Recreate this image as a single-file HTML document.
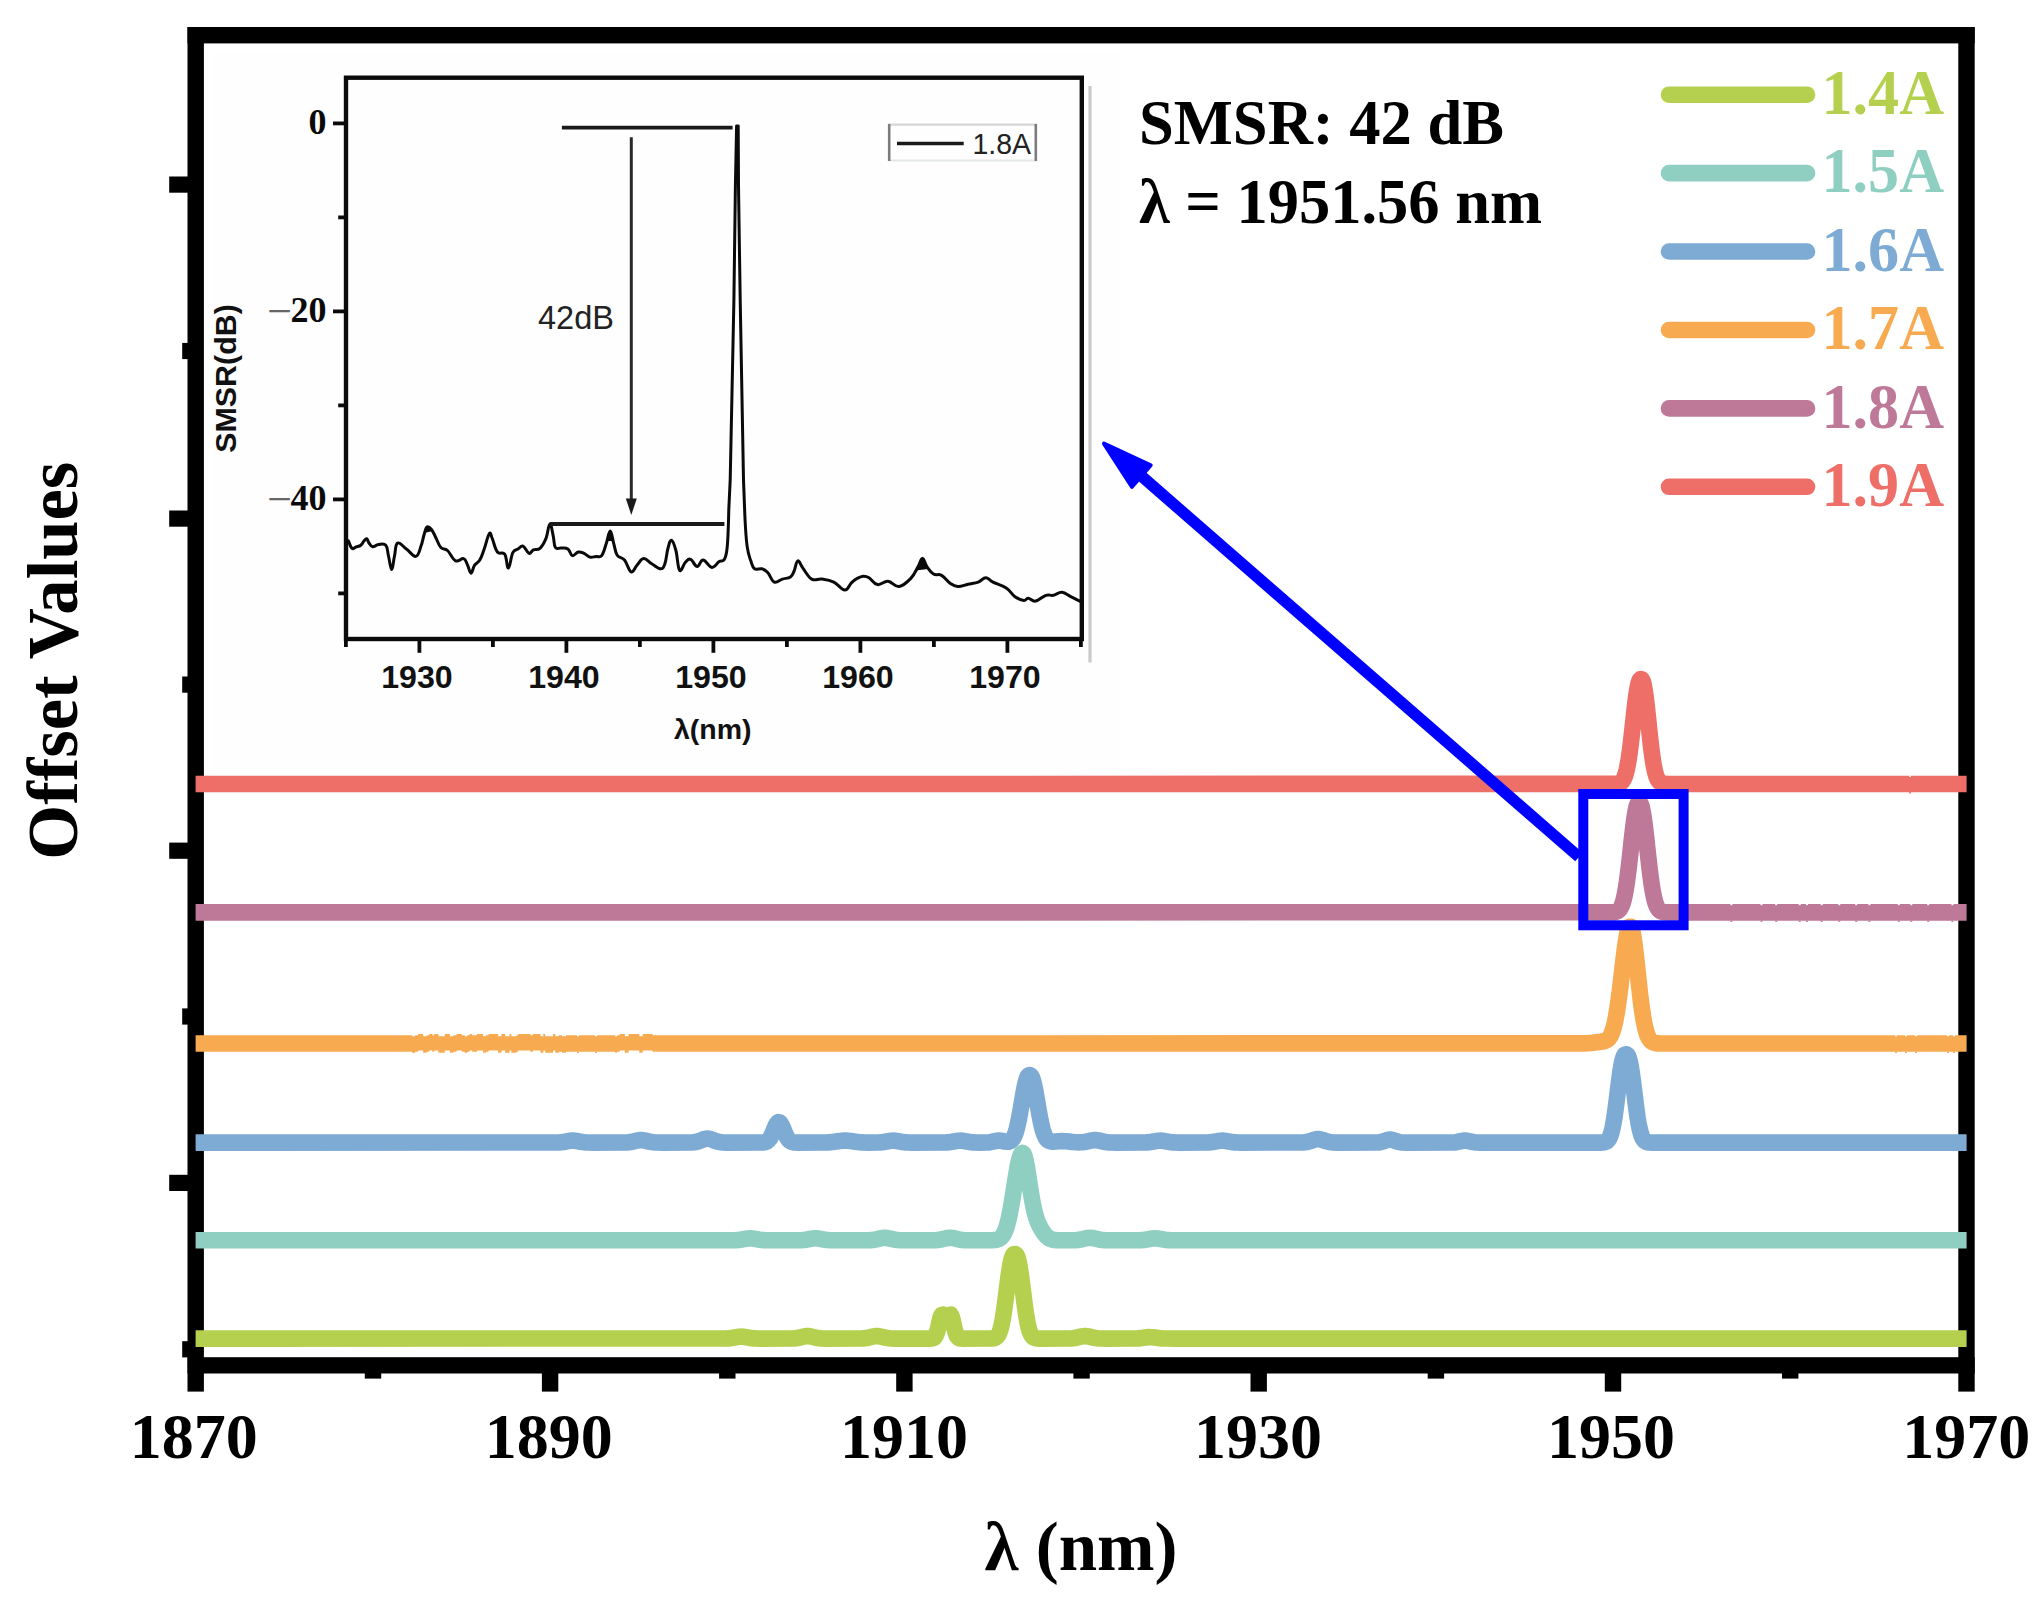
<!DOCTYPE html>
<html lang="en"><head><meta charset="utf-8"><title>Offset spectra vs pump current</title>
<style>html,body{margin:0;padding:0;background:#fff}body{width:2043px;height:1615px;overflow:hidden}svg{display:block}text{font-family:"Liberation Serif", serif;font-weight:bold}.sans{font-family:"Liberation Sans", sans-serif}.rg{font-weight:normal}</style>
</head><body>
<svg width="2043" height="1615" viewBox="0 0 2043 1615">
<rect x="0" y="0" width="2043" height="1615" fill="#fff"/>
<g id="inset">
<rect x="214" y="52" width="906" height="717" fill="#fefefe"/>
<line x1="1090" y1="86" x2="1090" y2="662.5" stroke="#cacaca" stroke-width="3.2"/>
<rect x="346" y="77.7" width="735.8" height="561.3" fill="none" stroke="#0a0a0a" stroke-width="4.4"/>
<line x1="345.9" y1="639" x2="345.9" y2="647" stroke="#0a0a0a" stroke-width="3.8"/>
<line x1="419.4" y1="639" x2="419.4" y2="652.8" stroke="#0a0a0a" stroke-width="3.8"/>
<line x1="492.9" y1="639" x2="492.9" y2="647" stroke="#0a0a0a" stroke-width="3.8"/>
<line x1="566.4" y1="639" x2="566.4" y2="652.8" stroke="#0a0a0a" stroke-width="3.8"/>
<line x1="639.9" y1="639" x2="639.9" y2="647" stroke="#0a0a0a" stroke-width="3.8"/>
<line x1="713.4" y1="639" x2="713.4" y2="652.8" stroke="#0a0a0a" stroke-width="3.8"/>
<line x1="786.9" y1="639" x2="786.9" y2="647" stroke="#0a0a0a" stroke-width="3.8"/>
<line x1="860.4" y1="639" x2="860.4" y2="652.8" stroke="#0a0a0a" stroke-width="3.8"/>
<line x1="933.9" y1="639" x2="933.9" y2="647" stroke="#0a0a0a" stroke-width="3.8"/>
<line x1="1007.4" y1="639" x2="1007.4" y2="652.8" stroke="#0a0a0a" stroke-width="3.8"/>
<line x1="1080.9" y1="639" x2="1080.9" y2="647" stroke="#0a0a0a" stroke-width="3.8"/>
<line x1="333" y1="123.4" x2="346" y2="123.4" stroke="#0a0a0a" stroke-width="3.8"/>
<line x1="338.2" y1="217.4" x2="346" y2="217.4" stroke="#0a0a0a" stroke-width="3.8"/>
<line x1="333" y1="311.4" x2="346" y2="311.4" stroke="#0a0a0a" stroke-width="3.8"/>
<line x1="338.2" y1="405.4" x2="346" y2="405.4" stroke="#0a0a0a" stroke-width="3.8"/>
<line x1="333" y1="499.4" x2="346" y2="499.4" stroke="#0a0a0a" stroke-width="3.8"/>
<line x1="338.2" y1="593.4" x2="346" y2="593.4" stroke="#0a0a0a" stroke-width="3.8"/>
<text x="326.5" y="134.2" font-size="36" text-anchor="end" fill="#0a0a0a">0</text>
<text font-size="36" fill="#0a0a0a"><tspan class="rg" x="292" y="326.3" font-size="44" text-anchor="end" fill="#666">−</tspan><tspan x="326.5" y="322" text-anchor="end">20</tspan></text>
<text font-size="36" fill="#0a0a0a"><tspan class="rg" x="292" y="514.3" font-size="44" text-anchor="end" fill="#666">−</tspan><tspan x="326.5" y="509.8" text-anchor="end">40</tspan></text>
<text class="sans" x="417" y="688.4" font-size="31" text-anchor="middle" textLength="71.5" lengthAdjust="spacingAndGlyphs" fill="#111">1930</text>
<text class="sans" x="564" y="688.4" font-size="31" text-anchor="middle" textLength="71.5" lengthAdjust="spacingAndGlyphs" fill="#111">1940</text>
<text class="sans" x="711" y="688.4" font-size="31" text-anchor="middle" textLength="71.5" lengthAdjust="spacingAndGlyphs" fill="#111">1950</text>
<text class="sans" x="858" y="688.4" font-size="31" text-anchor="middle" textLength="71.5" lengthAdjust="spacingAndGlyphs" fill="#111">1960</text>
<text class="sans" x="1005" y="688.4" font-size="31" text-anchor="middle" textLength="71.5" lengthAdjust="spacingAndGlyphs" fill="#111">1970</text>
<text class="sans" x="712.8" y="738.8" font-size="28.5" text-anchor="middle" fill="#111">λ(nm)</text>
<text class="sans" transform="translate(235.8 378.5) rotate(-90)" font-size="29" text-anchor="middle" textLength="148.5" lengthAdjust="spacingAndGlyphs" fill="#111">SMSR(dB)</text>
<path d="M348.4,540.9C349.1,542.4 350.5,547.1 352,548.3C353.5,549.5 354.2,547.6 356,547C357.8,546.4 359.2,546.5 360.8,545.3C362.4,544.1 362.8,542.3 364,541C365.2,539.7 365.7,538.3 366.7,538.7C367.7,539.1 367.8,541.4 369,543C370.2,544.6 370.7,546.5 372.6,546.8C374.5,547.1 375.9,544.9 378.5,544.6C381.1,544.3 383.8,543 385.8,545.3C387.8,547.6 387.3,551.1 388.5,556C389.7,560.9 390.5,569.6 391.7,569.6C392.9,569.6 393.3,561.3 394.5,556C395.7,550.7 395.1,544.5 397.5,543.1C399.9,541.7 402.7,546.3 406.4,549C410.1,551.7 413,557 415.9,556.4C418.8,555.8 419.4,550.4 421,546.1C422.6,541.8 422.8,538.8 424,535C425.2,531.2 425.4,528.2 426.9,527C428.4,525.8 429.5,527 431.3,529.2C433.1,531.4 434.1,534.3 436,538C437.9,541.7 438.6,545 440.9,547.5C443.2,550 444.6,547.8 447.5,550.5C450.4,553.2 452.4,559.2 455.6,560.8C458.8,562.4 461.2,557.8 463.6,558.6C466,559.4 466,562.1 467.5,565C469,567.9 469.6,573.2 471,573.2C472.4,573.2 472.8,567.8 474.6,565.2C476.4,562.6 477.9,563.2 479.8,560C481.7,556.8 482.3,554.3 484.2,549C486.1,543.7 487.7,535.7 489.3,533.6C490.9,531.5 490.7,535 492.3,538.7C493.9,542.4 494.9,548.9 497.4,552C499.9,555.1 502.5,551 504.7,554.2C506.9,557.4 506.8,568.4 508.4,568.1C510,567.8 510.9,556.5 512.8,552.7C514.7,548.9 515.9,550.3 518,549C520.1,547.7 520.9,545.2 523.1,546.1C525.3,547 526.9,552.7 529,553.4C531.1,554.1 531.2,550.8 533.4,549.8C535.6,548.8 537.5,550.5 540,548.3C542.5,546.1 543.9,543.5 545.9,538.7C547.9,533.9 548.3,524.7 549.8,524.1C551.3,523.5 552.1,531.1 553.2,535.8C554.3,540.5 553.8,545.1 555.4,547.5C557,549.9 558.5,547.7 561,548C563.5,548.3 565.6,547.5 567.9,549C570.2,550.5 570.2,555 572.3,555.6C574.4,556.2 575.9,552.4 578.2,552C580.5,551.6 581.7,552.4 584,553.4C586.3,554.4 587.5,556.5 589.9,557.1C592.3,557.7 593.6,556.8 596,556.5C598.4,556.2 599.7,558.1 601.7,555.6C603.7,553.1 604.5,548.7 606.2,543.8C607.9,538.9 608.7,531 610.2,531C611.7,531 612.4,539 613.8,543.8C615.2,548.6 615.1,552 617.2,555.2C619.3,558.4 621.7,556.7 624.5,560C627.3,563.3 628.6,570.8 631.1,571.8C633.6,572.8 634.5,567.8 637,565.2C639.5,562.6 640.7,558.9 643.6,558.6C646.5,558.3 648.3,561.7 651.7,563.7C655.1,565.7 657.9,568.8 660.5,568.8C663.1,568.8 663.4,567.7 664.9,563.7C666.4,559.7 666.5,553.7 667.8,549C669.1,544.3 669.9,539.9 671.5,540.2C673.1,540.5 674.3,544.5 675.9,550.5C677.5,556.5 677.7,568 679.6,570.3C681.5,572.6 683.2,564.4 685.4,562.2C687.6,560 688.2,558.4 690.6,559.3C693,560.2 694.7,566.5 697.2,566.6C699.7,566.7 700.2,559.8 703.1,560C706,560.2 708.7,567.1 711.9,567.4C715.1,567.7 716.7,563.1 719.2,561.5C721.7,559.9 722.8,562.4 724.4,559.3C726,556.2 726.4,556.1 727.3,546.1C728.2,536.1 728.8,509.4 728.8,509.4C728.8,509.4 730.2,480 730.2,480C730.2,480 733.9,300 733.9,300C733.9,300 735.4,186 735.4,186C735.4,186 736.6,126 736.6,126C736.6,126 738.2,126 738.2,126C738.2,126 738.5,186 738.5,186C738.5,186 740.2,300 740.2,300C740.2,300 743.5,480 743.5,480C743.5,480 744.9,516.7 744.9,516.7C744.9,516.7 745.9,537.3 747.1,546.1C748.3,554.9 749.3,556.3 750.8,560.8C752.3,565.3 752.3,567.2 754.5,568.8C756.7,570.4 759.2,568.1 761.8,568.8C764.4,569.5 765.2,569.8 767.7,572.5C770.2,575.2 771.4,580.8 774.3,582.1C777.2,583.4 779.2,580.1 782.4,579.1C785.6,578.1 788.1,578.5 790.4,576.9C792.7,575.3 792.6,574.2 794.1,571C795.6,567.8 796,561.4 797.8,560.8C799.6,560.2 800.1,564.4 802.9,568.1C805.7,571.8 807.9,576.9 811.7,579.1C815.5,581.3 817.6,578.5 822,579.1C826.4,579.7 829.2,579.9 833.8,582.1C838.4,584.3 841.3,590 844.8,590.1C848.3,590.2 849,585.1 851.4,582.8C853.8,580.5 854.6,579.8 857,578.5C859.4,577.2 860.8,576.4 863.2,576.2C865.6,576 866.1,576 869,577.7C871.9,579.4 873.7,583.9 877.5,584.6C881.3,585.3 883.7,580.9 888,581.3C892.3,581.7 894.4,587.1 899,586.5C903.6,585.9 907,582.4 910.8,578.4C914.6,574.4 915.8,570.6 918.1,566.6C920.4,562.6 920.7,558.6 922.5,558.6C924.3,558.6 924.7,563.5 926.9,566.6C929.1,569.7 930.6,572.2 933.5,574C936.4,575.8 938.2,573.5 941.6,575.4C945,577.3 947.2,581.3 950.4,583.5C953.6,585.7 954.3,586.3 957.8,586.5C961.3,586.7 963.9,585.2 968,584.3C972.1,583.4 974.8,583.4 978.3,582.1C981.8,580.8 982.8,577.7 985.7,577.7C988.6,577.7 988.9,580.1 993,582.1C997.1,584.1 1001.8,585 1006.2,587.9C1010.6,590.8 1011.5,594.2 1015,596.7C1018.5,599.2 1021.2,600.1 1023.8,600.4C1026.4,600.7 1025.8,598.1 1028.2,598.2C1030.6,598.3 1032.1,601.7 1035.6,601.1C1039.1,600.5 1042.4,596.5 1045.9,595.3C1049.4,594.1 1050,595.9 1053.2,595.3C1056.4,594.7 1058.5,592 1062,592.3C1065.5,592.6 1067.3,594.9 1070.8,596.7C1074.3,598.5 1077.8,600.2 1079.6,601.1" fill="none" stroke="#0a0a0a" stroke-width="3" stroke-linejoin="round" stroke-linecap="round"/>
<polygon points="915.5,570.5 922.5,556.5 928,569" fill="#0a0a0a"/>
<polygon points="424.5,533 427.5,525.8 432.5,531" fill="#0a0a0a"/>
<polygon points="607.6,541 610.2,529.8 613,541" fill="#0a0a0a"/>
<line x1="561.9" y1="127.6" x2="732.6" y2="127.6" stroke="#1a1a1a" stroke-width="3.8"/>
<line x1="549.8" y1="524" x2="724.4" y2="524" stroke="#1a1a1a" stroke-width="3.8"/>
<line x1="631.3" y1="137.3" x2="631.3" y2="501" stroke="#2a2a2a" stroke-width="3"/>
<polygon points="625.8,498.4 636.8,498.4 631.3,515" fill="#1a1a1a"/>
<text class="sans rg" x="576" y="329.2" font-size="32.5" text-anchor="middle" fill="#222">42dB</text>
<line x1="889.2" y1="124.6" x2="1035.8" y2="124.6" stroke="#d6d6d6" stroke-width="2.4"/>
<line x1="889.2" y1="160.6" x2="1035.8" y2="160.6" stroke="#e4e8e6" stroke-width="2"/>
<line x1="889.2" y1="123.9" x2="889.2" y2="161" stroke="#7c7c7c" stroke-width="2.6"/>
<line x1="1035.8" y1="123.9" x2="1035.8" y2="161" stroke="#7c7c7c" stroke-width="2.6"/>
<line x1="897" y1="143.6" x2="963.7" y2="143.6" stroke="#1a1a1a" stroke-width="3.5"/>
<text class="sans rg" x="1001.8" y="153.9" font-size="30" text-anchor="middle" textLength="58.5" lengthAdjust="spacingAndGlyphs" fill="#222">1.8A</text>
</g>
<g id="axes" fill="#000">
<rect x="187.5" y="27" width="16.4" height="1364.6"/>
<rect x="1958.3" y="27" width="16.4" height="1364.6"/>
<rect x="187.5" y="27" width="1787.2" height="16.4"/>
<rect x="187.5" y="1357.2" width="1787.2" height="16.3"/>
<rect x="364.8" y="1372.5" width="16.4" height="6.1"/>
<rect x="541.9" y="1372.5" width="16.4" height="19.1"/>
<rect x="719.1" y="1372.5" width="16.4" height="6.1"/>
<rect x="896.2" y="1372.5" width="16.4" height="19.1"/>
<rect x="1073.4" y="1372.5" width="16.4" height="6.1"/>
<rect x="1250.5" y="1372.5" width="16.4" height="19.1"/>
<rect x="1427.7" y="1372.5" width="16.4" height="6.1"/>
<rect x="1604.8" y="1372.5" width="16.4" height="19.1"/>
<rect x="1782" y="1372.5" width="16.4" height="6.1"/>
<rect x="169.2" y="176.5" width="19.3" height="16.2"/>
<rect x="182.2" y="342.9" width="6.3" height="16.2"/>
<rect x="169.2" y="510.5" width="19.3" height="16.2"/>
<rect x="182.2" y="676.5" width="6.3" height="16.2"/>
<rect x="169.2" y="842.6" width="19.3" height="16.2"/>
<rect x="182.2" y="1008.4" width="6.3" height="16.2"/>
<rect x="169.2" y="1174.8" width="19.3" height="16.2"/>
<rect x="182.2" y="1341.2" width="6.3" height="16.2"/>
</g>
<g id="data" fill="none" stroke-width="16.6" stroke-linejoin="round" stroke-linecap="butt">
<polyline stroke="#ee6e68" points="195.6,784 1615.6,783.9 1616.6,783.8 1617.6,783.7 1618.6,783.5 1619.6,783.2 1620.6,782.7 1621.6,781.9 1622.6,780.8 1623.6,779.2 1624.6,777.1 1625.6,774.1 1626.6,770.3 1627.6,765.6 1628.6,759.8 1629.6,753 1630.6,745.3 1631.6,736.7 1632.6,727.7 1633.6,718.5 1634.6,709.5 1635.6,701.1 1636.6,693.6 1637.6,687.6 1638.6,683.1 1639.6,680.3 1640.6,679.1 1641.6,679.2 1642.6,680.9 1643.6,684.4 1644.6,689.7 1645.6,696.6 1646.6,704.9 1647.6,714.1 1648.6,723.7 1649.6,733.3 1650.6,742.5 1651.6,750.9 1652.6,758.3 1653.6,764.6 1654.6,769.7 1655.6,773.8 1656.6,776.9 1657.6,779.2 1658.6,780.9 1659.6,782 1660.6,782.8 1661.6,783.3 1662.6,783.6 1663.6,783.8 1664.6,783.9 1665.6,783.9 1667.6,784 1966.6,784"/>
<rect x="1909" y="775.5" width="2" height="1.3" fill="#fff" stroke="none"/>
<rect x="1909" y="792.2" width="2" height="1.3" fill="#ee6e68" stroke="none"/>
<polyline stroke="#be7898" points="195.6,912.4 1611.6,912.3 1612.6,912.3 1613.6,912.2 1614.6,912.1 1615.6,911.9 1616.6,911.6 1617.6,911.1 1618.6,910.4 1619.6,909.4 1620.6,907.9 1621.6,906 1622.6,903.3 1623.6,899.9 1624.6,895.5 1625.6,890.3 1626.6,884 1627.6,876.7 1628.6,868.7 1629.6,859.9 1630.6,850.8 1631.6,841.5 1632.6,832.6 1633.6,824.3 1634.6,817.1 1635.6,811.1 1636.6,806.6 1637.6,803.8 1638.6,802.5 1639.6,802.5 1640.6,803.8 1641.6,806.6 1642.6,811.1 1643.6,817.1 1644.6,824.3 1645.6,832.6 1646.6,841.5 1647.6,850.8 1648.6,859.9 1649.6,868.7 1650.6,876.7 1651.6,884 1652.6,890.3 1653.6,895.5 1654.6,899.9 1655.6,903.3 1656.6,906 1657.6,907.9 1658.6,909.4 1659.6,910.4 1660.6,911.1 1661.6,911.6 1662.6,911.9 1663.6,912.1 1664.6,912.2 1665.6,912.3 1667.6,912.4 1966.6,912.4"/>
<rect x="1730.4" y="903.9" width="2" height="1.3" fill="#fff" stroke="none"/>
<rect x="1730.4" y="920.6" width="2" height="1.3" fill="#be7898" stroke="none"/>
<rect x="1760.5" y="903.9" width="2" height="1.3" fill="#fff" stroke="none"/>
<rect x="1760.5" y="920.6" width="2" height="1.3" fill="#be7898" stroke="none"/>
<rect x="1775.2" y="903.9" width="2" height="1.3" fill="#fff" stroke="none"/>
<rect x="1775.2" y="920.6" width="2" height="1.3" fill="#be7898" stroke="none"/>
<rect x="1798.7" y="903.9" width="2" height="1.3" fill="#fff" stroke="none"/>
<rect x="1798.7" y="920.6" width="2" height="1.3" fill="#be7898" stroke="none"/>
<rect x="1806" y="903.9" width="2" height="1.3" fill="#fff" stroke="none"/>
<rect x="1806" y="920.6" width="2" height="1.3" fill="#be7898" stroke="none"/>
<rect x="1820.7" y="903.9" width="2" height="1.3" fill="#fff" stroke="none"/>
<rect x="1820.7" y="920.6" width="2" height="1.3" fill="#be7898" stroke="none"/>
<rect x="1838.3" y="903.9" width="2" height="1.3" fill="#fff" stroke="none"/>
<rect x="1838.3" y="920.6" width="2" height="1.3" fill="#be7898" stroke="none"/>
<rect x="1855.2" y="903.9" width="2" height="1.3" fill="#fff" stroke="none"/>
<rect x="1855.2" y="920.6" width="2" height="1.3" fill="#be7898" stroke="none"/>
<rect x="1868.4" y="903.9" width="2" height="1.3" fill="#fff" stroke="none"/>
<rect x="1868.4" y="920.6" width="2" height="1.3" fill="#be7898" stroke="none"/>
<rect x="1897.8" y="903.9" width="2" height="1.3" fill="#fff" stroke="none"/>
<rect x="1897.8" y="920.6" width="2" height="1.3" fill="#be7898" stroke="none"/>
<rect x="1910.3" y="903.9" width="2" height="1.3" fill="#fff" stroke="none"/>
<rect x="1910.3" y="920.6" width="2" height="1.3" fill="#be7898" stroke="none"/>
<rect x="1927.2" y="903.9" width="2" height="1.3" fill="#fff" stroke="none"/>
<rect x="1927.2" y="920.6" width="2" height="1.3" fill="#be7898" stroke="none"/>
<rect x="1951.4" y="903.9" width="2" height="1.3" fill="#fff" stroke="none"/>
<rect x="1951.4" y="920.6" width="2" height="1.3" fill="#be7898" stroke="none"/>
<polyline stroke="#f7aa50" points="195.6,1043.5 1582.6,1043.4 1584.6,1043.4 1586.6,1043.3 1587.6,1043.2 1588.6,1043.2 1589.6,1043.1 1590.6,1043 1591.6,1042.9 1592.6,1042.8 1593.6,1042.7 1594.6,1042.6 1595.6,1042.4 1596.6,1042.3 1597.6,1042.2 1598.6,1042.1 1599.6,1041.9 1600.6,1041.8 1601.6,1041.7 1602.6,1041.5 1603.6,1041.3 1604.6,1041 1605.6,1040.7 1606.6,1040.2 1607.6,1039.5 1608.6,1038.6 1609.6,1037.4 1610.6,1035.8 1611.6,1033.7 1612.6,1031 1613.6,1027.8 1614.6,1023.8 1615.6,1019.1 1616.6,1013.6 1617.6,1007.3 1618.6,1000.2 1619.6,992.6 1620.6,984.4 1621.6,975.9 1622.6,967.3 1623.6,958.8 1624.6,950.8 1625.6,943.5 1626.6,937.2 1627.6,932.2 1628.6,928.7 1629.6,926.8 1630.6,926.7 1631.6,928.5 1632.6,932.3 1633.6,937.9 1634.6,945 1635.6,953.2 1636.6,962.2 1637.6,971.6 1638.6,981 1639.6,990.2 1640.6,998.8 1641.6,1006.6 1642.6,1013.7 1643.6,1019.8 1644.6,1025 1645.6,1029.3 1646.6,1032.8 1647.6,1035.6 1648.6,1037.7 1649.6,1039.4 1650.6,1040.6 1651.6,1041.5 1652.6,1042.1 1653.6,1042.6 1654.6,1042.9 1655.6,1043.1 1656.6,1043.3 1657.6,1043.4 1658.6,1043.4 1660.6,1043.5 1966.6,1043.5"/>
<rect x="412" y="1033.7" width="154" height="19.6" fill="#fff" stroke="none"/>
<polygon fill="#f7aa50" stroke="none" points="412,1036.2 415.2,1036.2 415.2,1035.2 418,1035.2 418,1033.9 419.6,1033.9 419.6,1033.9 423.1,1033.9 423.1,1036.2 424.6,1036.2 424.6,1036.2 426.6,1036.2 426.6,1035.2 429.2,1035.2 429.2,1033.9 430.8,1033.9 430.8,1033.9 432.4,1033.9 432.4,1035.2 434.3,1035.2 434.3,1033.9 436.2,1033.9 436.2,1033.9 438.4,1033.9 438.4,1036.2 441.2,1036.2 441.2,1036.2 443,1036.2 443,1036.2 444.8,1036.2 444.8,1033.9 446.5,1033.9 446.5,1033.9 449.9,1033.9 449.9,1036.2 453.3,1036.2 453.3,1035.2 456.5,1035.2 456.5,1033.9 458.6,1033.9 458.6,1033.9 461.9,1033.9 461.9,1035.2 464.7,1035.2 464.7,1036.2 467.4,1036.2 467.4,1035.2 469.5,1035.2 469.5,1033.9 472.2,1033.9 472.2,1035.2 474.3,1035.2 474.3,1035.2 477,1035.2 477,1033.9 480.4,1033.9 480.4,1033.9 483.1,1033.9 483.1,1036.2 485.8,1036.2 485.8,1035.2 488.5,1035.2 488.5,1033.9 490.8,1033.9 490.8,1033.9 493.1,1033.9 493.1,1033.9 495.1,1033.9 495.1,1033.9 498.1,1033.9 498.1,1036.2 501.4,1036.2 501.4,1033.9 505.1,1033.9 505.1,1036.2 508,1036.2 508,1036.2 509.5,1036.2 509.5,1033.9 511.3,1033.9 511.3,1036.2 513.6,1036.2 513.6,1036.2 516.5,1036.2 516.5,1035.2 518.1,1035.2 518.1,1033.9 521.7,1033.9 521.7,1033.9 523.8,1033.9 523.8,1033.9 525.8,1033.9 525.8,1033.9 527.6,1033.9 527.6,1033.9 530.4,1033.9 530.4,1035.2 532.9,1035.2 532.9,1033.9 534.8,1033.9 534.8,1033.9 537.7,1033.9 537.7,1033.9 540.5,1033.9 540.5,1036.2 543.3,1036.2 543.3,1033.9 545.2,1033.9 545.2,1036.2 548.9,1036.2 548.9,1036.2 551.2,1036.2 551.2,1036.2 553.1,1036.2 553.1,1033.9 555.3,1033.9 555.3,1036.2 558.6,1036.2 558.6,1035.2 561.9,1035.2 561.9,1036.2 565.3,1036.2 565.3,1036.2 566,1036.2 566,1052.8 565.3,1052.8 565.3,1052.8 561.9,1052.8 561.9,1051.8 558.6,1051.8 558.6,1052.8 555.3,1052.8 555.3,1050.5 553.1,1050.5 553.1,1052.8 551.2,1052.8 551.2,1052.8 548.9,1052.8 548.9,1052.8 545.2,1052.8 545.2,1050.5 543.3,1050.5 543.3,1052.8 540.5,1052.8 540.5,1050.5 537.7,1050.5 537.7,1050.5 534.8,1050.5 534.8,1050.5 532.9,1050.5 532.9,1051.8 530.4,1051.8 530.4,1050.5 527.6,1050.5 527.6,1050.5 525.8,1050.5 525.8,1050.5 523.8,1050.5 523.8,1050.5 521.7,1050.5 521.7,1050.5 518.1,1050.5 518.1,1051.8 516.5,1051.8 516.5,1052.8 513.6,1052.8 513.6,1052.8 511.3,1052.8 511.3,1050.5 509.5,1050.5 509.5,1052.8 508,1052.8 508,1052.8 505.1,1052.8 505.1,1050.5 501.4,1050.5 501.4,1052.8 498.1,1052.8 498.1,1050.5 495.1,1050.5 495.1,1050.5 493.1,1050.5 493.1,1050.5 490.8,1050.5 490.8,1050.5 488.5,1050.5 488.5,1051.8 485.8,1051.8 485.8,1052.8 483.1,1052.8 483.1,1050.5 480.4,1050.5 480.4,1050.5 477,1050.5 477,1051.8 474.3,1051.8 474.3,1051.8 472.2,1051.8 472.2,1050.5 469.5,1050.5 469.5,1051.8 467.4,1051.8 467.4,1052.8 464.7,1052.8 464.7,1051.8 461.9,1051.8 461.9,1050.5 458.6,1050.5 458.6,1050.5 456.5,1050.5 456.5,1051.8 453.3,1051.8 453.3,1052.8 449.9,1052.8 449.9,1050.5 446.5,1050.5 446.5,1050.5 444.8,1050.5 444.8,1052.8 443,1052.8 443,1052.8 441.2,1052.8 441.2,1052.8 438.4,1052.8 438.4,1050.5 436.2,1050.5 436.2,1050.5 434.3,1050.5 434.3,1051.8 432.4,1051.8 432.4,1050.5 430.8,1050.5 430.8,1050.5 429.2,1050.5 429.2,1051.8 426.6,1051.8 426.6,1052.8 424.6,1052.8 424.6,1052.8 423.1,1052.8 423.1,1050.5 419.6,1050.5 419.6,1050.5 418,1050.5 418,1051.8 415.2,1051.8 415.2,1052.8 412,1052.8"/>
<rect x="612" y="1033.7" width="44" height="19.6" fill="#fff" stroke="none"/>
<polygon fill="#f7aa50" stroke="none" points="612,1035.2 615.1,1035.2 615.1,1036.2 617.1,1036.2 617.1,1035.2 619.7,1035.2 619.7,1033.9 621.3,1033.9 621.3,1033.9 624.9,1033.9 624.9,1036.2 628.6,1036.2 628.6,1033.9 632,1033.9 632,1033.9 635.6,1033.9 635.6,1033.9 637.4,1033.9 637.4,1033.9 639.3,1033.9 639.3,1036.2 642.7,1036.2 642.7,1033.9 646.2,1033.9 646.2,1033.9 649,1033.9 649,1033.9 652.6,1033.9 652.6,1035.2 655.7,1035.2 655.7,1033.9 656,1033.9 656,1050.5 655.7,1050.5 655.7,1051.8 652.6,1051.8 652.6,1050.5 649,1050.5 649,1050.5 646.2,1050.5 646.2,1050.5 642.7,1050.5 642.7,1052.8 639.3,1052.8 639.3,1050.5 637.4,1050.5 637.4,1050.5 635.6,1050.5 635.6,1050.5 632,1050.5 632,1050.5 628.6,1050.5 628.6,1052.8 624.9,1052.8 624.9,1050.5 621.3,1050.5 621.3,1050.5 619.7,1050.5 619.7,1051.8 617.1,1051.8 617.1,1052.8 615.1,1052.8 615.1,1051.8 612,1051.8"/>
<rect x="1895" y="1035" width="2" height="1.3" fill="#fff" stroke="none"/>
<rect x="1895" y="1051.7" width="2" height="1.3" fill="#f7aa50" stroke="none"/>
<rect x="1905" y="1035" width="2" height="1.3" fill="#fff" stroke="none"/>
<rect x="1905" y="1051.7" width="2" height="1.3" fill="#f7aa50" stroke="none"/>
<rect x="1915" y="1035" width="2" height="1.3" fill="#fff" stroke="none"/>
<rect x="1915" y="1051.7" width="2" height="1.3" fill="#f7aa50" stroke="none"/>
<rect x="1947" y="1035" width="2" height="1.3" fill="#fff" stroke="none"/>
<rect x="1947" y="1051.7" width="2" height="1.3" fill="#f7aa50" stroke="none"/>
<rect x="1953" y="1035" width="2" height="1.3" fill="#fff" stroke="none"/>
<rect x="1953" y="1051.7" width="2" height="1.3" fill="#f7aa50" stroke="none"/>
<rect x="577" y="1035" width="2" height="1.3" fill="#fff" stroke="none"/>
<rect x="577" y="1051.7" width="2" height="1.3" fill="#f7aa50" stroke="none"/>
<rect x="595" y="1035" width="2" height="1.3" fill="#fff" stroke="none"/>
<rect x="595" y="1051.7" width="2" height="1.3" fill="#f7aa50" stroke="none"/>
<polyline stroke="#7eabd3" points="195.6,1142.6 556.6,1142.5 558.6,1142.5 559.6,1142.4 560.6,1142.3 561.6,1142.2 562.6,1142.1 563.6,1142 564.6,1141.8 565.6,1141.6 566.6,1141.4 567.6,1141.2 568.6,1141 569.6,1140.8 570.6,1140.7 571.6,1140.6 573.6,1140.6 574.6,1140.7 575.6,1140.8 576.6,1141 577.6,1141.2 578.6,1141.4 579.6,1141.6 580.6,1141.8 581.6,1141.9 582.6,1142.1 583.6,1142.2 584.6,1142.3 585.6,1142.4 586.6,1142.5 588.6,1142.5 592.6,1142.6 624.6,1142.5 626.6,1142.5 627.6,1142.4 628.6,1142.3 629.6,1142.2 630.6,1142 631.6,1141.9 632.6,1141.7 633.6,1141.4 634.6,1141.2 635.6,1140.9 636.6,1140.7 637.6,1140.5 638.6,1140.3 639.6,1140.2 640.6,1140.1 641.6,1140.1 642.6,1140.2 643.6,1140.3 644.6,1140.5 645.6,1140.7 646.6,1141 647.6,1141.2 648.6,1141.5 649.6,1141.7 650.6,1141.9 651.6,1142.1 652.6,1142.2 653.6,1142.3 654.6,1142.4 655.6,1142.5 657.6,1142.5 662.6,1142.6 690.6,1142.5 691.6,1142.5 692.6,1142.4 693.6,1142.3 694.6,1142.2 695.6,1142 696.6,1141.8 697.6,1141.5 698.6,1141.2 699.6,1140.9 700.6,1140.5 701.6,1140.1 702.6,1139.7 703.6,1139.3 704.6,1139 705.6,1138.8 706.6,1138.6 707.6,1138.6 708.6,1138.7 709.6,1138.9 710.6,1139.1 711.6,1139.5 712.6,1139.9 713.6,1140.3 714.6,1140.7 715.6,1141 716.6,1141.4 717.6,1141.7 718.6,1141.9 719.6,1142.1 720.6,1142.2 721.6,1142.4 722.6,1142.4 723.6,1142.5 725.6,1142.6 761.6,1142.5 762.6,1142.5 763.6,1142.4 764.6,1142.2 765.6,1142 766.6,1141.6 767.6,1140.9 768.6,1140 769.6,1138.8 770.6,1137.3 771.6,1135.3 772.6,1133.1 773.6,1130.7 774.6,1128.2 775.6,1125.9 776.6,1124 777.6,1122.7 778.6,1122.1 779.6,1122.4 780.6,1123.4 781.6,1125.1 782.6,1127.2 783.6,1129.7 784.6,1132.1 785.6,1134.5 786.6,1136.5 787.6,1138.2 788.6,1139.6 789.6,1140.6 790.6,1141.3 791.6,1141.8 792.6,1142.1 793.6,1142.3 794.6,1142.5 795.6,1142.5 797.6,1142.6 824.6,1142.5 826.6,1142.5 827.6,1142.4 828.6,1142.4 829.6,1142.3 830.6,1142.2 831.6,1142.1 832.6,1142 833.6,1141.9 834.6,1141.7 835.6,1141.6 836.6,1141.4 837.6,1141.3 838.6,1141.1 839.6,1141 840.6,1140.9 841.6,1140.8 842.6,1140.7 843.6,1140.6 846.6,1140.6 847.6,1140.7 848.6,1140.8 849.6,1140.9 850.6,1141 851.6,1141.2 852.6,1141.3 853.6,1141.5 854.6,1141.6 855.6,1141.8 856.6,1141.9 857.6,1142 858.6,1142.1 859.6,1142.2 860.6,1142.3 861.6,1142.4 862.6,1142.4 864.6,1142.5 867.6,1142.6 878.6,1142.5 879.6,1142.4 880.6,1142.4 881.6,1142.3 882.6,1142.2 883.6,1142 884.6,1141.8 885.6,1141.7 886.6,1141.5 887.6,1141.3 888.6,1141.1 889.6,1140.9 890.6,1140.8 891.6,1140.7 893.6,1140.6 894.6,1140.7 895.6,1140.8 896.6,1140.9 897.6,1141.1 898.6,1141.3 899.6,1141.5 900.6,1141.7 901.6,1141.9 902.6,1142 903.6,1142.2 904.6,1142.3 905.6,1142.4 906.6,1142.4 908.6,1142.5 911.6,1142.6 944.6,1142.5 945.6,1142.5 946.6,1142.4 947.6,1142.4 948.6,1142.3 949.6,1142.2 950.6,1142 951.6,1141.8 952.6,1141.7 953.6,1141.5 954.6,1141.3 955.6,1141.1 956.6,1140.9 957.6,1140.8 958.6,1140.7 960.6,1140.6 961.6,1140.7 962.6,1140.8 963.6,1140.9 964.6,1141.1 965.6,1141.3 966.6,1141.5 967.6,1141.7 968.6,1141.9 969.6,1142 970.6,1142.2 971.6,1142.3 972.6,1142.4 973.6,1142.4 975.6,1142.5 978.6,1142.6 986.6,1142.5 987.6,1142.5 988.6,1142.4 989.6,1142.3 990.6,1142.1 991.6,1141.9 992.6,1141.7 993.6,1141.5 994.6,1141.2 995.6,1141 996.6,1140.8 997.6,1140.7 998.6,1140.6 999.6,1140.6 1000.6,1140.7 1001.6,1140.8 1002.6,1141 1003.6,1141.3 1004.6,1141.5 1005.6,1141.6 1006.6,1141.7 1007.6,1141.8 1008.6,1141.7 1009.6,1141.4 1010.6,1140.9 1011.6,1140.1 1012.6,1139 1013.6,1137.4 1014.6,1135.3 1015.6,1132.7 1016.6,1129.3 1017.6,1125.3 1018.6,1120.7 1019.6,1115.5 1020.6,1109.9 1021.6,1104 1022.6,1098.1 1023.6,1092.4 1024.6,1087.2 1025.6,1082.8 1026.6,1079.2 1027.6,1076.8 1028.6,1075.4 1029.6,1075 1030.6,1075.4 1031.6,1076.8 1032.6,1079.2 1033.6,1082.8 1034.6,1087.2 1035.6,1092.4 1036.6,1098.1 1037.6,1104 1038.6,1109.8 1039.6,1115.5 1040.6,1120.7 1041.6,1125.3 1042.6,1129.3 1043.6,1132.6 1044.6,1135.2 1045.6,1137.3 1046.6,1138.8 1047.6,1139.9 1048.6,1140.6 1049.6,1141.1 1050.6,1141.4 1051.6,1141.6 1053.6,1141.6 1054.6,1141.6 1055.6,1141.5 1056.6,1141.4 1057.6,1141.3 1058.6,1141.2 1059.6,1141.2 1061.6,1141.1 1064.6,1141.2 1065.6,1141.2 1066.6,1141.3 1067.6,1141.4 1068.6,1141.5 1069.6,1141.6 1070.6,1141.8 1071.6,1141.9 1072.6,1142 1073.6,1142.1 1074.6,1142.2 1075.6,1142.2 1076.6,1142.3 1078.6,1142.4 1081.6,1142.3 1082.6,1142.3 1083.6,1142.1 1084.6,1142 1085.6,1141.8 1086.6,1141.6 1087.6,1141.4 1088.6,1141.2 1089.6,1140.9 1090.6,1140.7 1091.6,1140.5 1092.6,1140.3 1093.6,1140.2 1094.6,1140.1 1095.6,1140.1 1096.6,1140.2 1097.6,1140.3 1098.6,1140.5 1099.6,1140.7 1100.6,1141 1101.6,1141.2 1102.6,1141.5 1103.6,1141.7 1104.6,1141.9 1105.6,1142.1 1106.6,1142.2 1107.6,1142.3 1108.6,1142.4 1109.6,1142.5 1111.6,1142.5 1116.6,1142.6 1144.6,1142.5 1145.6,1142.5 1146.6,1142.4 1147.6,1142.4 1148.6,1142.3 1149.6,1142.2 1150.6,1142 1151.6,1141.8 1152.6,1141.7 1153.6,1141.5 1154.6,1141.3 1155.6,1141.1 1156.6,1140.9 1157.6,1140.8 1158.6,1140.7 1160.6,1140.6 1161.6,1140.7 1162.6,1140.8 1163.6,1140.9 1164.6,1141.1 1165.6,1141.3 1166.6,1141.5 1167.6,1141.7 1168.6,1141.9 1169.6,1142 1170.6,1142.2 1171.6,1142.3 1172.6,1142.4 1173.6,1142.4 1175.6,1142.5 1178.6,1142.6 1206.6,1142.5 1207.6,1142.5 1208.6,1142.4 1209.6,1142.4 1210.6,1142.3 1211.6,1142.2 1212.6,1142 1213.6,1141.8 1214.6,1141.7 1215.6,1141.5 1216.6,1141.3 1217.6,1141.1 1218.6,1140.9 1219.6,1140.8 1220.6,1140.7 1222.6,1140.6 1223.6,1140.7 1224.6,1140.8 1225.6,1140.9 1226.6,1141.1 1227.6,1141.3 1228.6,1141.5 1229.6,1141.7 1230.6,1141.9 1231.6,1142 1232.6,1142.2 1233.6,1142.3 1234.6,1142.4 1235.6,1142.4 1237.6,1142.5 1240.6,1142.6 1301.6,1142.5 1302.6,1142.5 1303.6,1142.4 1304.6,1142.3 1305.6,1142.2 1306.6,1142 1307.6,1141.8 1308.6,1141.6 1309.6,1141.3 1310.6,1141 1311.6,1140.6 1312.6,1140.3 1313.6,1139.9 1314.6,1139.6 1315.6,1139.4 1316.6,1139.2 1317.6,1139.1 1318.6,1139.1 1319.6,1139.2 1320.6,1139.4 1321.6,1139.7 1322.6,1140 1323.6,1140.3 1324.6,1140.7 1325.6,1141 1326.6,1141.3 1327.6,1141.6 1328.6,1141.9 1329.6,1142.1 1330.6,1142.2 1331.6,1142.3 1332.6,1142.4 1333.6,1142.5 1335.6,1142.6 1376.6,1142.5 1377.6,1142.5 1378.6,1142.4 1379.6,1142.3 1380.6,1142.1 1381.6,1141.9 1382.6,1141.6 1383.6,1141.3 1384.6,1140.9 1385.6,1140.6 1386.6,1140.2 1387.6,1139.9 1388.6,1139.7 1389.6,1139.6 1390.6,1139.6 1391.6,1139.7 1392.6,1140 1393.6,1140.3 1394.6,1140.6 1395.6,1141 1396.6,1141.3 1397.6,1141.7 1398.6,1141.9 1399.6,1142.1 1400.6,1142.3 1401.6,1142.4 1402.6,1142.5 1403.6,1142.5 1405.6,1142.6 1452.6,1142.5 1453.6,1142.5 1454.6,1142.4 1455.6,1142.3 1456.6,1142.1 1457.6,1141.9 1458.6,1141.7 1459.6,1141.5 1460.6,1141.2 1461.6,1141 1462.6,1140.8 1463.6,1140.7 1464.6,1140.6 1465.6,1140.6 1466.6,1140.7 1467.6,1140.9 1468.6,1141.1 1469.6,1141.3 1470.6,1141.5 1471.6,1141.8 1472.6,1142 1473.6,1142.1 1474.6,1142.3 1475.6,1142.4 1476.6,1142.5 1477.6,1142.5 1479.6,1142.6 1601.6,1142.6 1602.6,1142.5 1603.6,1142.4 1604.6,1142.2 1605.6,1141.9 1606.6,1141.4 1607.6,1140.6 1608.6,1139.4 1609.6,1137.7 1610.6,1135.2 1611.6,1131.9 1612.6,1127.6 1613.6,1122.4 1614.6,1116.1 1615.6,1109 1616.6,1101.2 1617.6,1093.1 1618.6,1084.9 1619.6,1077.2 1620.6,1070.3 1621.6,1064.4 1622.6,1059.9 1623.6,1056.7 1624.6,1054.9 1625.6,1054.2 1626.6,1054.3 1627.6,1055.2 1628.6,1057.2 1629.6,1060.7 1630.6,1065.5 1631.6,1071.6 1632.6,1078.7 1633.6,1086.6 1634.6,1094.7 1635.6,1102.8 1636.6,1110.5 1637.6,1117.5 1638.6,1123.5 1639.6,1128.6 1640.6,1132.6 1641.6,1135.8 1642.6,1138.1 1643.6,1139.7 1644.6,1140.8 1645.6,1141.5 1646.6,1142 1647.6,1142.3 1648.6,1142.4 1649.6,1142.5 1651.6,1142.6 1966.6,1142.6"/>
<polyline stroke="#8ecfc1" points="195.6,1240.3 734.6,1240.2 735.6,1240.2 736.6,1240.1 737.6,1240.1 738.6,1240 739.6,1239.9 740.6,1239.7 741.6,1239.5 742.6,1239.4 743.6,1239.2 744.6,1239 745.6,1238.8 746.6,1238.6 747.6,1238.5 748.6,1238.4 750.6,1238.3 751.6,1238.4 752.6,1238.5 753.6,1238.6 754.6,1238.8 755.6,1239 756.6,1239.2 757.6,1239.4 758.6,1239.6 759.6,1239.7 760.6,1239.9 761.6,1240 762.6,1240.1 763.6,1240.1 765.6,1240.2 768.6,1240.3 800.6,1240.2 801.6,1240.2 802.6,1240.1 803.6,1240 804.6,1239.9 805.6,1239.8 806.6,1239.6 807.6,1239.4 808.6,1239.2 809.6,1239 810.6,1238.8 811.6,1238.7 812.6,1238.5 813.6,1238.4 814.6,1238.3 816.6,1238.3 817.6,1238.4 818.6,1238.6 819.6,1238.7 820.6,1238.9 821.6,1239.1 822.6,1239.3 823.6,1239.5 824.6,1239.7 825.6,1239.8 826.6,1239.9 827.6,1240 828.6,1240.1 829.6,1240.2 831.6,1240.2 837.6,1240.3 868.6,1240.2 869.6,1240.2 870.6,1240.1 871.6,1240.1 872.6,1240 873.6,1239.9 874.6,1239.7 875.6,1239.5 876.6,1239.3 877.6,1239.1 878.6,1238.8 879.6,1238.6 880.6,1238.3 881.6,1238.1 882.6,1238 883.6,1237.8 885.6,1237.8 886.6,1237.9 887.6,1238.1 888.6,1238.3 889.6,1238.5 890.6,1238.7 891.6,1239 892.6,1239.2 893.6,1239.4 894.6,1239.6 895.6,1239.8 896.6,1239.9 897.6,1240 898.6,1240.1 899.6,1240.2 901.6,1240.3 935.6,1240.2 936.6,1240.1 937.6,1240 938.6,1239.9 939.6,1239.7 940.6,1239.6 941.6,1239.4 942.6,1239.1 943.6,1238.9 944.6,1238.6 945.6,1238.4 946.6,1238.2 947.6,1238 948.6,1237.9 949.6,1237.8 950.6,1237.8 951.6,1237.9 952.6,1238 953.6,1238.2 954.6,1238.4 955.6,1238.7 956.6,1238.9 957.6,1239.2 958.6,1239.4 959.6,1239.6 960.6,1239.8 961.6,1239.9 962.6,1240 963.6,1240.1 964.6,1240.2 966.6,1240.2 971.6,1240.3 991.6,1240.2 992.6,1240.2 993.6,1240.1 994.6,1240 995.6,1239.9 996.6,1239.7 997.6,1239.4 998.6,1239 999.6,1238.5 1000.6,1237.8 1001.6,1236.8 1002.6,1235.6 1003.6,1234 1004.6,1232 1005.6,1229.6 1006.6,1226.7 1007.6,1223.2 1008.6,1219.2 1009.6,1214.5 1010.6,1209.4 1011.6,1203.7 1012.6,1197.7 1013.6,1191.3 1014.6,1184.9 1015.6,1178.5 1016.6,1172.5 1017.6,1166.9 1018.6,1162 1019.6,1158.1 1020.6,1155.2 1021.6,1153.4 1022.6,1152.9 1023.6,1153.9 1024.6,1156.5 1025.6,1160.4 1026.6,1165.5 1027.6,1171.3 1028.6,1177.7 1029.6,1184.2 1030.6,1190.7 1031.6,1196.8 1032.6,1202.4 1033.6,1207.4 1034.6,1211.8 1035.6,1215.6 1036.6,1218.8 1037.6,1221.5 1038.6,1223.9 1039.6,1226 1040.6,1227.8 1041.6,1229.6 1042.6,1231.2 1043.6,1232.6 1044.6,1234 1045.6,1235.2 1046.6,1236.3 1047.6,1237.2 1048.6,1237.9 1049.6,1238.6 1050.6,1239.1 1051.6,1239.4 1052.6,1239.7 1053.6,1239.9 1054.6,1240 1055.6,1240.1 1056.6,1240.2 1058.6,1240.3 1074.6,1240.2 1075.6,1240.2 1076.6,1240.1 1077.6,1240 1078.6,1239.9 1079.6,1239.7 1080.6,1239.6 1081.6,1239.4 1082.6,1239.1 1083.6,1238.9 1084.6,1238.6 1085.6,1238.4 1086.6,1238.2 1087.6,1238 1088.6,1237.9 1089.6,1237.8 1090.6,1237.8 1091.6,1237.9 1092.6,1238 1093.6,1238.2 1094.6,1238.4 1095.6,1238.7 1096.6,1238.9 1097.6,1239.2 1098.6,1239.4 1099.6,1239.6 1100.6,1239.8 1101.6,1239.9 1102.6,1240 1103.6,1240.1 1104.6,1240.2 1106.6,1240.2 1111.6,1240.3 1139.6,1240.2 1140.6,1240.2 1141.6,1240.1 1142.6,1240.1 1143.6,1240 1144.6,1239.9 1145.6,1239.7 1146.6,1239.5 1147.6,1239.4 1148.6,1239.2 1149.6,1239 1150.6,1238.8 1151.6,1238.6 1152.6,1238.5 1153.6,1238.4 1155.6,1238.3 1156.6,1238.4 1157.6,1238.5 1158.6,1238.6 1159.6,1238.8 1160.6,1239 1161.6,1239.2 1162.6,1239.4 1163.6,1239.6 1164.6,1239.7 1165.6,1239.9 1166.6,1240 1167.6,1240.1 1168.6,1240.1 1170.6,1240.2 1173.6,1240.3 1966.6,1240.3"/>
<polyline stroke="#b4d04e" points="195.6,1338.6 725.6,1338.5 726.6,1338.5 727.6,1338.4 728.6,1338.4 729.6,1338.3 730.6,1338.2 731.6,1338 732.6,1337.8 733.6,1337.7 734.6,1337.5 735.6,1337.3 736.6,1337.1 737.6,1336.9 738.6,1336.8 739.6,1336.7 741.6,1336.6 742.6,1336.7 743.6,1336.8 744.6,1336.9 745.6,1337.1 746.6,1337.3 747.6,1337.5 748.6,1337.7 749.6,1337.9 750.6,1338 751.6,1338.2 752.6,1338.3 753.6,1338.4 754.6,1338.4 756.6,1338.5 759.6,1338.6 791.6,1338.5 792.6,1338.5 793.6,1338.4 794.6,1338.4 795.6,1338.3 796.6,1338.1 797.6,1338 798.6,1337.8 799.6,1337.5 800.6,1337.3 801.6,1337.1 802.6,1336.8 803.6,1336.6 804.6,1336.4 805.6,1336.2 806.6,1336.1 808.6,1336.1 809.6,1336.2 810.6,1336.4 811.6,1336.6 812.6,1336.9 813.6,1337.1 814.6,1337.4 815.6,1337.6 816.6,1337.8 817.6,1338 818.6,1338.1 819.6,1338.3 820.6,1338.4 821.6,1338.4 822.6,1338.5 824.6,1338.6 861.6,1338.5 862.6,1338.4 863.6,1338.4 864.6,1338.3 865.6,1338.2 866.6,1338 867.6,1337.8 868.6,1337.6 869.6,1337.4 870.6,1337.1 871.6,1336.9 872.6,1336.6 873.6,1336.4 874.6,1336.3 875.6,1336.1 877.6,1336.1 878.6,1336.2 879.6,1336.4 880.6,1336.6 881.6,1336.8 882.6,1337 883.6,1337.3 884.6,1337.5 885.6,1337.7 886.6,1337.9 887.6,1338.1 888.6,1338.2 889.6,1338.3 890.6,1338.4 891.6,1338.5 893.6,1338.6 930.6,1338.6 931.6,1338.5 932.6,1338.4 933.6,1338 934.6,1337.2 935.6,1335.8 936.6,1333.5 937.6,1330.1 938.6,1325.8 939.6,1321.2 940.6,1317.3 941.6,1315 942.6,1314.7 943.6,1316.2 944.6,1318.3 945.6,1320 946.6,1320.2 947.6,1318.9 948.6,1316.8 949.6,1315 950.6,1314.7 951.6,1316.4 952.6,1319.9 953.6,1324.4 954.6,1328.8 955.6,1332.6 956.6,1335.2 957.6,1336.9 958.6,1337.8 959.6,1338.3 960.6,1338.5 961.6,1338.6 991.6,1338.5 992.6,1338.5 993.6,1338.3 994.6,1338.1 995.6,1337.6 996.6,1337 997.6,1335.9 998.6,1334.3 999.6,1332 1000.6,1329 1001.6,1324.9 1002.6,1319.9 1003.6,1313.8 1004.6,1306.9 1005.6,1299.3 1006.6,1291.3 1007.6,1283.3 1008.6,1275.8 1009.6,1269 1010.6,1263.3 1011.6,1259 1012.6,1256.1 1013.6,1254.5 1014.6,1254 1015.6,1254.2 1016.6,1255.3 1017.6,1257.7 1018.6,1261.4 1019.6,1266.6 1020.6,1272.9 1021.6,1280.2 1022.6,1288.1 1023.6,1296.1 1024.6,1303.9 1025.6,1311.2 1026.6,1317.6 1027.6,1323 1028.6,1327.5 1029.6,1330.9 1030.6,1333.5 1031.6,1335.3 1032.6,1336.6 1033.6,1337.4 1034.6,1337.9 1035.6,1338.2 1036.6,1338.4 1037.6,1338.5 1038.6,1338.6 1070.6,1338.5 1071.6,1338.4 1072.6,1338.3 1073.6,1338.2 1074.6,1338 1075.6,1337.9 1076.6,1337.7 1077.6,1337.4 1078.6,1337.2 1079.6,1336.9 1080.6,1336.7 1081.6,1336.5 1082.6,1336.3 1083.6,1336.2 1084.6,1336.1 1085.6,1336.1 1086.6,1336.2 1087.6,1336.3 1088.6,1336.5 1089.6,1336.7 1090.6,1337 1091.6,1337.2 1092.6,1337.5 1093.6,1337.7 1094.6,1337.9 1095.6,1338.1 1096.6,1338.2 1097.6,1338.3 1098.6,1338.4 1099.6,1338.5 1101.6,1338.5 1106.6,1338.6 1134.6,1338.5 1136.6,1338.5 1137.6,1338.4 1138.6,1338.4 1139.6,1338.3 1140.6,1338.2 1141.6,1338 1142.6,1337.9 1143.6,1337.8 1144.6,1337.6 1145.6,1337.5 1146.6,1337.3 1147.6,1337.2 1148.6,1337.1 1151.6,1337.2 1152.6,1337.2 1153.6,1337.3 1154.6,1337.5 1155.6,1337.6 1156.6,1337.8 1157.6,1337.9 1158.6,1338.1 1159.6,1338.2 1160.6,1338.3 1161.6,1338.4 1162.6,1338.4 1163.6,1338.5 1165.6,1338.5 1173.6,1338.6 1966.6,1338.6"/>
</g>
<g id="callout">
<rect x="1583.3" y="794" width="100.3" height="131.3" fill="none" stroke="#0000ff" stroke-width="10"/>
<line x1="1139.8" y1="474.7" x2="1579" y2="857" stroke="#0000ff" stroke-width="11.5"/>
<polygon points="1104,443.6 1132,486.8 1150.7,465.3" fill="#0000ff" stroke="#0000ff" stroke-width="4" stroke-linejoin="round"/>
</g>
<g id="legend">
<line x1="1669" y1="94.7" x2="1807" y2="94.7" stroke="#b4d04e" stroke-width="16.6" stroke-linecap="round"/>
<text x="1821.5" y="114" font-size="64" fill="#b4d04e" textLength="122.5" lengthAdjust="spacingAndGlyphs">1.4A</text>
<line x1="1669" y1="173.1" x2="1807" y2="173.1" stroke="#8ecfc1" stroke-width="16.6" stroke-linecap="round"/>
<text x="1821.5" y="192.4" font-size="64" fill="#8ecfc1" textLength="122.5" lengthAdjust="spacingAndGlyphs">1.5A</text>
<line x1="1669" y1="251.5" x2="1807" y2="251.5" stroke="#7eabd3" stroke-width="16.6" stroke-linecap="round"/>
<text x="1821.5" y="270.8" font-size="64" fill="#7eabd3" textLength="122.5" lengthAdjust="spacingAndGlyphs">1.6A</text>
<line x1="1669" y1="330" x2="1807" y2="330" stroke="#f7aa50" stroke-width="16.6" stroke-linecap="round"/>
<text x="1821.5" y="349.3" font-size="64" fill="#f7aa50" textLength="122.5" lengthAdjust="spacingAndGlyphs">1.7A</text>
<line x1="1669" y1="408.4" x2="1807" y2="408.4" stroke="#be7898" stroke-width="16.6" stroke-linecap="round"/>
<text x="1821.5" y="427.7" font-size="64" fill="#be7898" textLength="122.5" lengthAdjust="spacingAndGlyphs">1.8A</text>
<line x1="1669" y1="486.8" x2="1807" y2="486.8" stroke="#ee6e68" stroke-width="16.6" stroke-linecap="round"/>
<text x="1821.5" y="506.1" font-size="64" fill="#ee6e68" textLength="122.5" lengthAdjust="spacingAndGlyphs">1.9A</text>
</g>
<g id="labels">
<text x="1139" y="144.4" font-size="64" textLength="365" lengthAdjust="spacingAndGlyphs">SMSR: 42 dB</text>
<text x="1139" y="222.8" font-size="64" textLength="403" lengthAdjust="spacingAndGlyphs">λ = 1951.56 nm</text>
<text x="193.8" y="1458" font-size="64" text-anchor="middle">1870</text>
<text x="548.7" y="1458" font-size="64" text-anchor="middle">1890</text>
<text x="903.9" y="1458" font-size="64" text-anchor="middle">1910</text>
<text x="1258.1" y="1458" font-size="64" text-anchor="middle">1930</text>
<text x="1610.9" y="1458" font-size="64" text-anchor="middle">1950</text>
<text x="1966.3" y="1458" font-size="64" text-anchor="middle">1970</text>
<text x="1081" y="1569.6" font-size="69" text-anchor="middle">λ (nm)</text>
<text transform="translate(76.7 660.7) rotate(-90)" font-size="71" text-anchor="middle" textLength="398" lengthAdjust="spacingAndGlyphs">Offset Values</text>
</g>
</svg>
</body></html>
